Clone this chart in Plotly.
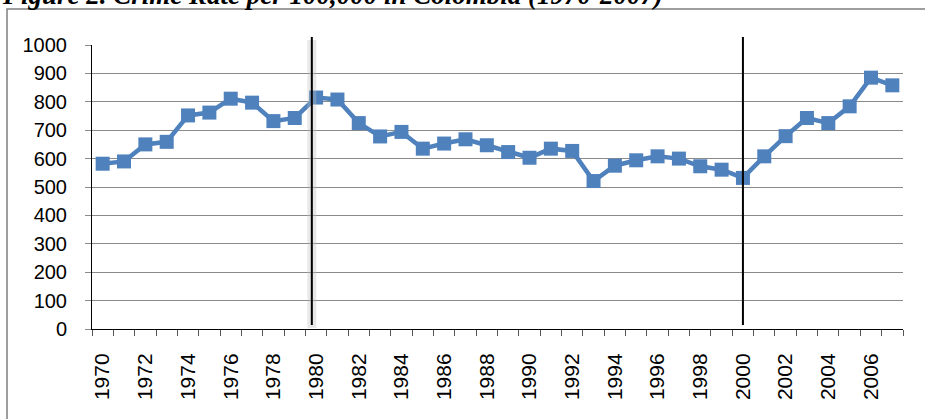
import plotly.graph_objects as go

years = list(range(1970, 2008))
crime_rate = [582, 590, 650, 659, 752, 762, 811, 797, 732, 743,
              815, 808, 725, 678, 694, 635, 653, 668, 647, 623,
              603, 635, 627, 521, 575, 594, 608, 600, 573, 561,
              532, 608, 679, 743, 725, 784, 885, 858]
label_years = list(range(1970, 2008, 2))
boundaries = [y - 0.5 for y in range(1970, 2009)]
break_years = [1980, 2000]
title_text = "Figure 2. Crime Rate per 100,000 in Colombia (1970-2007)"

W, H = 925, 419
L, R, T, B = 92, 22, 45, 90
pw, ph = W - L - R, H - T - B

def px_x(p):
    return (p - L) / pw

def px_y(p):
    return 1 + (T - p) / ph

fig = go.Figure()
fig.add_trace(go.Scatter(
    x=years, y=crime_rate, mode='lines+markers',
    line=dict(color='#4F81BD', width=4.5),
    marker=dict(symbol='square', size=14, color='#4F81BD'),
    showlegend=False, hoverinfo='x+y'))

# chart frame
fig.add_shape(type='rect', xref='paper', yref='paper',
              x0=px_x(7), x1=px_x(940), y0=px_y(440), y1=px_y(9),
              line=dict(color='#7f7f7f', width=1.5), layer='below')

# vertical break lines
for yr in break_years:
    xpos = yr - 0.2 if yr == 1980 else yr
    if yr == 1980:
        fig.add_shape(type='line', xref='x', yref='paper', x0=xpos, x1=xpos,
                      y0=px_y(328), y1=px_y(40),
                      line=dict(color='rgba(190,190,190,0.35)', width=9))
    fig.add_shape(type='line', xref='x', yref='paper', x0=xpos, x1=xpos,
                  y0=px_y(325), y1=px_y(37),
                  line=dict(color='black', width=2))

fig.add_annotation(text='<b><i>' + title_text + '</i></b>', xref='paper', yref='paper',
                   x=px_x(0), y=px_y(12), xanchor='left', yanchor='bottom',
                   showarrow=False,
                   font=dict(family='Liberation Serif', size=27, color='black'))

fig.update_xaxes(range=[1969.5, 2007.5], tickvals=label_years,
                 ticktext=[str(y) for y in label_years], tickangle=-90,
                 ticks='', showgrid=False, showline=True, linecolor='black',
                 linewidth=1, zeroline=False, ticklabelstandoff=15,
                 tickfont=dict(family='Liberation Sans', size=21, color='black'),
                 minor=dict(tickvals=boundaries, ticks='outside', ticklen=6,
                            tickcolor='#555555', showgrid=False))
fig.update_yaxes(range=[0, 1000], dtick=100, showgrid=True, gridcolor='#8a8a8a',
                 gridwidth=1, ticks='outside', ticklen=6, tickcolor='#8a8a8a',
                 showline=True, linecolor='black', linewidth=1, zeroline=False,
                 ticklabelstandoff=14,
                 tickfont=dict(family='Liberation Sans', size=20, color='black'))

fig.update_layout(width=W, height=H, margin=dict(l=L, r=R, t=T, b=B),
                  paper_bgcolor='white', plot_bgcolor='white')

fig.write_html("out.html", config={'displayModeBar': False},
               post_script="document.body.style.margin='0';document.body.style.overflow='hidden';")
